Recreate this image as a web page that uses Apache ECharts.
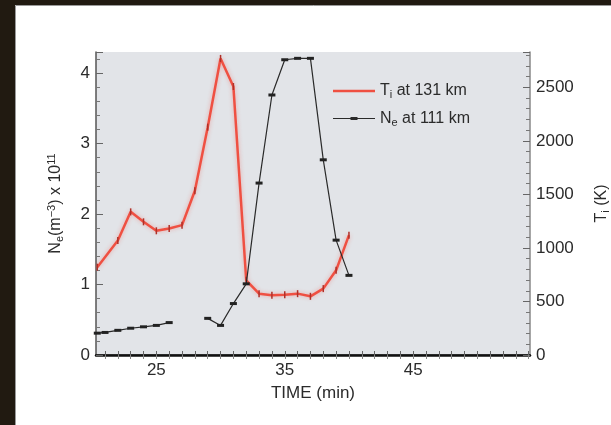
<!DOCTYPE html>
<html>
<head>
<meta charset="utf-8">
<script src="https://cdn.jsdelivr.net/npm/echarts@6/dist/echarts.min.js"></script>
<style>
  html, body { margin: 0; padding: 0; background: #ffffff; }
  #chart { width: 611px; height: 425px; }
</style>
</head>
<body>
<div id="chart"></div>
<script>
// Ion temperature at 131 km (right axis, K)
const tiTime = [20.4, 22, 23, 24, 25, 26, 27, 28, 29, 30, 31, 32, 33, 34, 35, 36, 37, 38, 39, 40];
const tiKelvin = [820, 1070, 1337, 1244, 1160, 1182, 1213, 1534, 2128, 2770, 2508, 698, 573, 557, 562, 573, 548, 620, 791, 1119];

// Electron density at 111 km (left axis, 1e11 m^-3); null = no measurement
const neTime = [20.4, 21, 22, 23, 24, 25, 26, 27, 28, 29, 30, 31, 32, 33, 34, 35, 36, 37, 38, 39, 40];
const neDensity = [0.31, 0.32, 0.35, 0.38, 0.40, 0.42, 0.46, null, null, 0.52, 0.42, 0.73, 1.01, 2.44, 3.69, 4.19, 4.21, 4.21, 2.77, 1.63, 1.13];

// Axis ticks
const timeLabels = [25, 35, 45];
const timeTicks = [];
for (let t = 21; t <= 54; t++) timeTicks.push(t);

const FONT = 'Liberation Sans';
const TXT = '#2b2b2b';
const RED = '#ef5042';
const DARK = '#2a2a2a';

const tiData = tiTime.map((t, i) => [t, tiKelvin[i]]);
const neData = neTime.map((t, i) => [t, neDensity[i] === null ? '-' : neDensity[i]]);

// Legend glyphs: a 42x8 box holding a horizontal stroke (plus a dash marker for Ne)
const boxCorners = 'M0,0 L0.05,0 L0.05,0.05 Z M41.95,8 L42,8 L42,7.95 Z ';
const tiIcon = 'path://' + boxCorners + 'M0,2.8 L42,2.8 L42,5.2 L0,5.2 Z';
const neIcon = 'path://' + boxCorners + 'M0,3.4 L42,3.4 L42,4.6 L0,4.6 Z M17.5,2.5 L24.5,2.5 L24.5,5.5 L17.5,5.5 Z';

const chart = echarts.init(document.getElementById('chart'), null, { renderer: 'canvas' });

const subRich = {
  sub: { fontSize: 11, verticalAlign: 'bottom', padding: [8, 0, 0, 0], fontFamily: FONT, color: TXT },
  sup: { fontSize: 11, verticalAlign: 'top', padding: [0, 0, 8, 0], fontFamily: FONT, color: TXT }
};

const plainNumber = v => String(v);

chart.setOption({
  animation: false,
  backgroundColor: '#ffffff',
  textStyle: { fontFamily: FONT },
  graphic: [
    { type: 'rect', left: 0, top: 0, shape: { width: 611, height: 5 }, style: { fill: '#211a11' }, z: 100 },
    { type: 'rect', left: 0, top: 0, shape: { width: 15, height: 425 }, style: { fill: '#211a11' }, z: 100 },
    { type: 'line', shape: { x1: 15.5, y1: 5.5, x2: 15.5, y2: 425 }, style: { stroke: '#9a9a9a', lineWidth: 1 }, z: 100 },
    { type: 'line', shape: { x1: 15.5, y1: 5.5, x2: 611, y2: 5.5 }, style: { stroke: '#9a9a9a', lineWidth: 1 }, z: 100 }
  ],
  grid: {
    left: 96, right: 81, top: 52, bottom: 70,
    outerBoundsMode: 'none',
    show: true, backgroundColor: '#e2e4e8', borderWidth: 0
  },
  legend: {
    left: 328, top: 78,
    orient: 'vertical',
    itemWidth: 42, itemHeight: 8, itemGap: 10,
    data: [
      { name: 'Ti', icon: tiIcon, itemStyle: { color: RED, borderWidth: 0 } },
      { name: 'Ne', icon: neIcon, itemStyle: { color: DARK, borderWidth: 0 } }
    ],
    formatter: function (name) {
      return name === 'Ti' ? 'T{sub|i} at 131 km' : 'N{sub|e} at 111 km';
    },
    textStyle: { fontFamily: FONT, fontSize: 16, color: TXT, rich: subRich }
  },
  xAxis: [
    {
      type: 'value', position: 'bottom', min: 20.3, max: 54.1,
      name: 'TIME (min)', nameLocation: 'middle', nameGap: 30,
      nameTextStyle: { fontFamily: FONT, fontSize: 17, color: TXT },
      axisLine: { show: true, lineStyle: { color: '#555', width: 1.5 } },
      axisTick: { show: true, inside: true, length: 4, customValues: timeTicks, lineStyle: { color: '#666' } },
      axisLabel: { customValues: timeLabels, fontFamily: FONT, fontSize: 17, color: TXT, margin: 7 },
      splitLine: { show: false }
    },
    {
      type: 'value', position: 'top', min: 20.3, max: 54.1,
      axisLine: { show: true, lineStyle: { color: '#111', width: 2.5 } },
      axisTick: { show: true, inside: true, length: 4, customValues: timeTicks, lineStyle: { color: '#888' } },
      axisLabel: { show: false },
      splitLine: { show: false }
    }
  ],
  yAxis: [
    {
      type: 'value', position: 'left', min: 0, max: 4.3, interval: 1,
      name: 'N{sub|e}(m{sup|−3}) x 10{sup|11}', nameLocation: 'middle', nameGap: 31, nameRotate: 90,
      nameTextStyle: { fontFamily: FONT, fontSize: 16, color: TXT, rich: subRich },
      axisLine: { show: true, lineStyle: { color: '#555', width: 1.5 } },
      axisTick: { show: true, inside: true, length: 7, lineStyle: { color: '#666' } },
      minorTick: { show: true, splitNumber: 5, length: 4, lineStyle: { color: '#777' } },
      axisLabel: { fontFamily: FONT, fontSize: 17, color: TXT, margin: 6, showMaxLabel: false, formatter: plainNumber },
      splitLine: { show: false }
    },
    {
      type: 'value', position: 'right', min: 0, max: 2830, interval: 500,
      name: 'T{sub|i} (K)', nameLocation: 'middle', nameGap: 62, nameRotate: 90,
      nameTextStyle: { fontFamily: FONT, fontSize: 16, color: TXT, rich: subRich },
      axisLine: { show: true, lineStyle: { color: '#888', width: 1.5 } },
      axisTick: { show: true, inside: true, length: 7, lineStyle: { color: '#666' } },
      minorTick: { show: true, splitNumber: 5, length: 4, lineStyle: { color: '#777' } },
      axisLabel: { fontFamily: FONT, fontSize: 17, color: TXT, margin: 6, showMaxLabel: false, formatter: plainNumber },
      splitLine: { show: false }
    }
  ],
  series: [
    {
      name: 'Ti', type: 'line', xAxisIndex: 0, yAxisIndex: 1,
      data: tiData,
      lineStyle: { color: RED, width: 2.5, shadowColor: 'rgba(240,90,80,0.45)', shadowBlur: 4 },
      itemStyle: { color: '#b03028' },
      symbol: 'rect', symbolSize: [1.5, 7], showSymbol: true,
      z: 3
    },
    {
      name: 'Ne', type: 'line', xAxisIndex: 0, yAxisIndex: 0,
      data: neData, connectNulls: false,
      lineStyle: { color: DARK, width: 1.2 },
      itemStyle: { color: '#222' },
      symbol: 'rect', symbolSize: [7, 3], showSymbol: true,
      z: 4
    }
  ]
});
</script>
</body>
</html>
